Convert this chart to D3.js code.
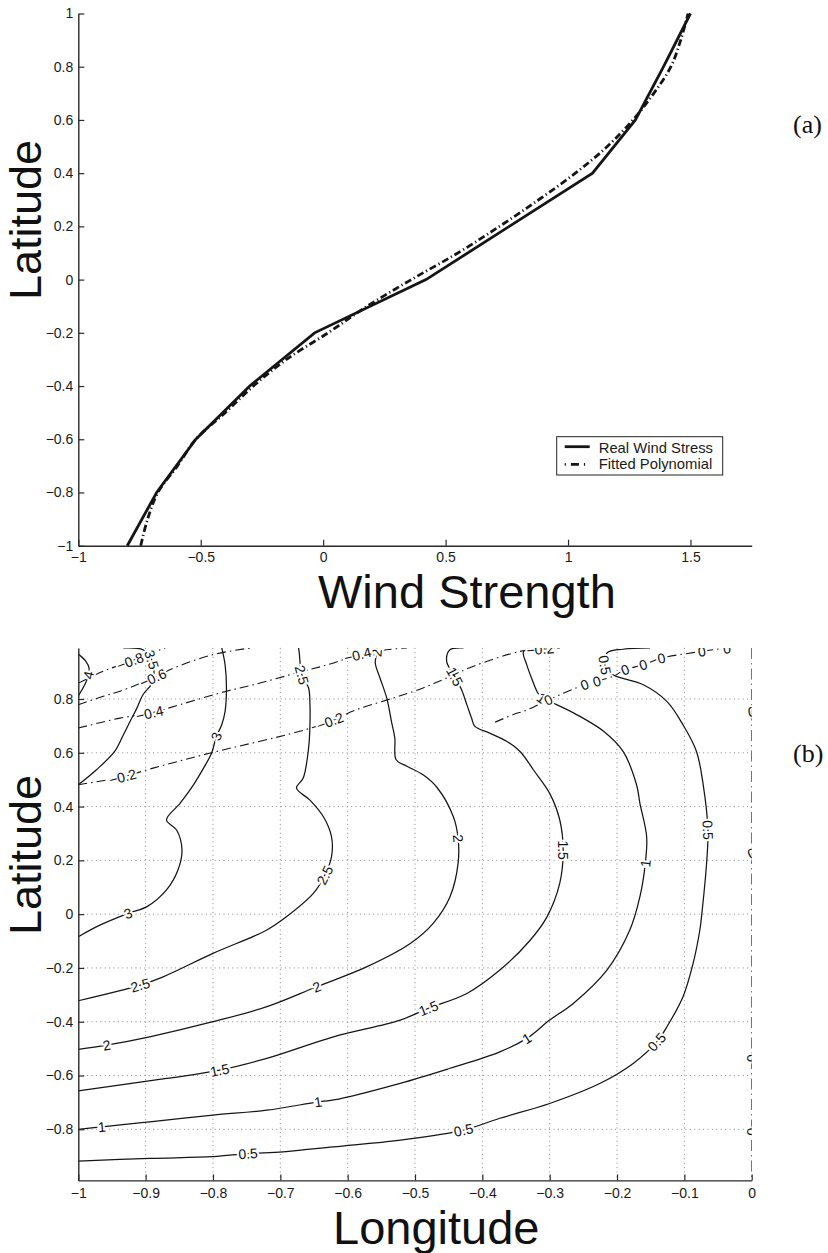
<!DOCTYPE html>
<html>
<head>
<meta charset="utf-8">
<script src="https://cdn.jsdelivr.net/npm/d3@7"></script>
<style>
  html, body { margin: 0; padding: 0; background: #fff; }
  svg { display: block; }
  .tick text { font-family: "Liberation Sans", Arial, Helvetica, sans-serif; }
</style>
</head>
<body>
<svg id="fig" width="828" height="1253"></svg>
<script>
// ---------- (a) wind stress profile ----------
const latStress = [-1, -0.8, -0.6, -0.4, -0.2, 0, 0.2, 0.4, 0.6, 0.8, 1];
const realStress = [-0.80, -0.68, -0.52, -0.30, -0.035, 0.42, 0.76, 1.10, 1.275, 1.39, 1.50];
const latFit = [-1, -0.9, -0.8, -0.7, -0.6, -0.5, -0.4, -0.3, -0.2, -0.1, 0, 0.1, 0.2, 0.3, 0.4, 0.5, 0.6, 0.7, 0.8, 0.9, 1];
const fittedStress = [-0.745, -0.717, -0.675, -0.595, -0.52, -0.40, -0.285, -0.15, 0.02, 0.18, 0.36, 0.55, 0.72, 0.88, 1.03, 1.16, 1.265, 1.35, 1.42, 1.46, 1.49];
const stressXTicks = [-1, -0.5, 0, 0.5, 1, 1.5];
const stressYTicks = [-1, -0.8, -0.6, -0.4, -0.2, 0, 0.2, 0.4, 0.6, 0.8, 1];
const legendNames = ["Real Wind Stress", "Fitted Polynomial"];

// ---------- (b) streamfunction contours, [longitude, latitude] ----------
const lonTicks = [-1, -0.9, -0.8, -0.7, -0.6, -0.5, -0.4, -0.3, -0.2, -0.1, 0];
const latTicks = [-0.8, -0.6, -0.4, -0.2, 0, 0.2, 0.4, 0.6, 0.8];

const psi4 = [[-1.0,0.967],[-0.989,0.941],[-0.984,0.915],[-0.985,0.889],[-0.989,0.860],[-1.0,0.811]];
const psi35 = [[-0.933,0.99],[-0.904,0.983],[-0.891,0.946],[-0.889,0.866],[-0.904,0.816],[-0.913,0.766],[-0.923,0.717],[-0.933,0.667],[-0.946,0.605],[-0.973,0.537],[-1.0,0.481]];
const psi3 = [[-0.787,0.99],[-0.782,0.927],[-0.780,0.841],[-0.782,0.754],[-0.787,0.704],[-0.795,0.661],[-0.802,0.599],[-0.814,0.543],[-0.829,0.481],[-0.849,0.412],[-0.869,0.350],[-0.854,0.313],[-0.846,0.238],[-0.852,0.164],[-0.869,0.090],[-0.898,0.028],[-0.926,0.003],[-0.968,-0.041],[-1.0,-0.084]];
const psi25 = [[-0.673,0.99],[-0.672,0.975],[-0.668,0.890],[-0.658,0.841],[-0.656,0.779],[-0.656,0.704],[-0.658,0.618],[-0.666,0.506],[-0.676,0.469],[-0.656,0.424],[-0.636,0.362],[-0.624,0.288],[-0.624,0.213],[-0.634,0.145],[-0.651,0.077],[-0.691,-0.010],[-0.720,-0.059],[-0.800,-0.146],[-0.874,-0.233],[-0.908,-0.264],[-1.0,-0.322]];
const psi2 = [[-0.557,0.99],[-0.557,0.971],[-0.559,0.934],[-0.552,0.878],[-0.542,0.804],[-0.535,0.717],[-0.530,0.655],[-0.528,0.574],[-0.512,0.550],[-0.488,0.518],[-0.467,0.470],[-0.443,0.362],[-0.436,0.282],[-0.436,0.189],[-0.448,0.065],[-0.473,-0.034],[-0.507,-0.109],[-0.572,-0.196],[-0.646,-0.270],[-0.720,-0.344],[-0.800,-0.400],[-0.894,-0.456],[-0.958,-0.487],[-1.0,-0.503]];
const psi15 = [[-0.428,0.99],[-0.448,0.983],[-0.453,0.940],[-0.441,0.884],[-0.431,0.835],[-0.423,0.779],[-0.416,0.729],[-0.411,0.698],[-0.389,0.673],[-0.364,0.643],[-0.344,0.605],[-0.324,0.536],[-0.300,0.449],[-0.285,0.350],[-0.280,0.238],[-0.285,0.115],[-0.304,-0.010],[-0.329,-0.097],[-0.374,-0.208],[-0.423,-0.295],[-0.480,-0.350],[-0.522,-0.394],[-0.621,-0.456],[-0.720,-0.536],[-0.790,-0.580],[-0.869,-0.611],[-1.0,-0.657]];
const psi1 = [[-0.292,0.99],[-0.329,0.988],[-0.339,0.975],[-0.334,0.927],[-0.327,0.878],[-0.319,0.829],[-0.312,0.804],[-0.295,0.785],[-0.260,0.742],[-0.220,0.680],[-0.191,0.605],[-0.171,0.481],[-0.166,0.412],[-0.156,0.288],[-0.158,0.189],[-0.166,0.065],[-0.181,-0.059],[-0.215,-0.208],[-0.265,-0.332],[-0.300,-0.394],[-0.334,-0.462],[-0.374,-0.512],[-0.448,-0.573],[-0.522,-0.629],[-0.621,-0.691],[-0.644,-0.698],[-0.720,-0.729],[-0.800,-0.747],[-0.894,-0.772],[-0.965,-0.791],[-1.0,-0.800]];
const psi05 = [[-0.151,0.99],[-0.191,0.985],[-0.215,0.971],[-0.218,0.926],[-0.210,0.897],[-0.201,0.884],[-0.161,0.853],[-0.126,0.791],[-0.102,0.704],[-0.082,0.605],[-0.072,0.481],[-0.065,0.313],[-0.067,0.189],[-0.074,0.003],[-0.077,-0.059],[-0.087,-0.183],[-0.102,-0.307],[-0.126,-0.419],[-0.141,-0.475],[-0.176,-0.555],[-0.225,-0.629],[-0.300,-0.704],[-0.374,-0.759],[-0.428,-0.803],[-0.522,-0.840],[-0.621,-0.865],[-0.696,-0.884],[-0.748,-0.890],[-0.800,-0.902],[-0.894,-0.908],[-1.0,-0.918]];
const psi0 = [[-0.381,0.714],[-0.354,0.742],[-0.334,0.759],[-0.302,0.797],[-0.248,0.853],[-0.230,0.866],[-0.206,0.884],[-0.188,0.909],[-0.161,0.927],[-0.134,0.952],[-0.074,0.977],[-0.037,0.990]];
const psi0East = [[0, 0.99], [0, -0.99]];
const psiM02 = [[-1.0,0.481],[-0.953,0.501],[-0.934,0.510],[-0.889,0.543],[-0.804,0.599],[-0.671,0.680],[-0.626,0.717],[-0.587,0.760],[-0.532,0.804],[-0.488,0.841],[-0.453,0.878],[-0.413,0.922],[-0.344,0.977],[-0.314,0.985],[-0.285,0.99]];
const psiM04 = [[-1.0,0.692],[-0.938,0.729],[-0.894,0.747],[-0.849,0.779],[-0.780,0.829],[-0.740,0.853],[-0.671,0.900],[-0.626,0.930],[-0.585,0.964],[-0.542,0.983],[-0.512,0.99]];
const psiM06 = [[-1.0,0.779],[-0.963,0.810],[-0.938,0.829],[-0.889,0.878],[-0.864,0.909],[-0.800,0.965],[-0.743,0.99]];
const psiM08 = [[-1.0,0.859],[-0.963,0.903],[-0.923,0.940],[-0.871,0.99]];

const contourLines = [
  { level: 4, pts: psi4 }, { level: 3.5, pts: psi35 }, { level: 3, pts: psi3 },
  { level: 2.5, pts: psi25 }, { level: 2, pts: psi2 }, { level: 1.5, pts: psi15 },
  { level: 1, pts: psi1 }, { level: 0.5, pts: psi05 },
  { level: 0, pts: psi0 }, { level: 0, pts: psi0East },
  { level: -0.2, pts: psiM02 }, { level: -0.4, pts: psiM04 },
  { level: -0.6, pts: psiM06 }, { level: -0.8, pts: psiM08 }
];

// inline contour labels: [level, lon, lat]
const contourLabels = [
  [4, -0.985, 0.889],
  [3.5, -0.891, 0.946],
  [3, -0.795, 0.661], [3, -0.926, 0.003],
  [2.5, -0.668, 0.890], [2.5, -0.634, 0.145], [2.5, -0.908, -0.264],
  [2, -0.557, 0.971], [2, -0.436, 0.282], [2, -0.646, -0.270], [2, -0.958, -0.487],
  [1.5, -0.441, 0.884], [1.5, -0.280, 0.238], [1.5, -0.480, -0.350], [1.5, -0.790, -0.580],
  [1, -0.312, 0.804], [1, -0.158, 0.189], [1, -0.334, -0.462], [1, -0.644, -0.698], [1, -0.965, -0.791],
  [0.5, -0.218, 0.926], [0.5, -0.065, 0.313], [0.5, -0.141, -0.475], [0.5, -0.428, -0.803], [0.5, -0.748, -0.890],
  [-0.8, -0.923, 0.940],
  [-0.6, -0.889, 0.878],
  [-0.4, -0.894, 0.747], [-0.4, -0.585, 0.964],
  [-0.2, -0.934, 0.510], [-0.2, -0.626, 0.717], [-0.2, -0.314, 0.985],
  [0, -0.302, 0.797], [0, -0.248, 0.853], [0, -0.230, 0.866], [0, -0.188, 0.909],
  [0, -0.161, 0.927], [0, -0.134, 0.952], [0, -0.074, 0.977], [0, -0.037, 0.988],
  [0, 0, 0.753], [0, 0, 0.226], [0, 0, -0.535], [0, 0, -0.809]
];

// ---------- drawing ----------
const svg = d3.select("#fig");
const SANS = '"Liberation Sans", Arial, Helvetica, sans-serif';
const SERIF = '"Liberation Serif", "DejaVu Serif", serif';
const INK = "#151515";
const fmt = d => String(d).replace("-", "\u2212");

function styleAxis(g) {
  g.select(".domain").attr("stroke", "#2a2a2a").attr("stroke-width", 1.4);
  g.selectAll(".tick line").attr("stroke", "#2a2a2a").attr("stroke-width", 1.2);
  g.selectAll(".tick text").attr("font-size", 14).attr("fill", "#1a1a1a").attr("font-family", SANS);
}

// ---- panel (a) ----
const xA = d3.scaleLinear().domain([-1, 1.75]).range([78.3, 751.7]);
const yA = d3.scaleLinear().domain([-1, 1]).range([545.7, 13.5]);
const gA = svg.append("g");

gA.append("g").attr("transform", "translate(78.3,0)")
  .call(d3.axisLeft(yA).tickValues(stressYTicks).tickFormat(fmt).tickSizeInner(-6).tickSizeOuter(0).tickPadding(5))
  .call(styleAxis);
gA.append("g").attr("transform", "translate(0,545.7)")
  .call(d3.axisBottom(xA).tickValues(stressXTicks).tickFormat(fmt).tickSizeInner(-6).tickSizeOuter(0).tickPadding(6))
  .call(styleAxis);

const realPts = latStress.map((lat, i) => [realStress[i], lat]);
const fitPts = latFit.map((lat, i) => [fittedStress[i], lat]);

gA.append("path").datum(fitPts)
  .attr("d", d3.line().x(d => xA(d[0])).y(d => yA(d[1])).curve(d3.curveCatmullRom.alpha(0.5)))
  .attr("fill", "none").attr("stroke", INK).attr("stroke-width", 2.8)
  .attr("stroke-dasharray", "7,3,1.2,3");
gA.append("path").datum(realPts)
  .attr("d", d3.line().x(d => xA(d[0])).y(d => yA(d[1])))
  .attr("fill", "none").attr("stroke", INK).attr("stroke-width", 2.8).attr("stroke-linejoin", "miter");

// legend
const leg = gA.append("g").attr("transform", "translate(556.7,436.7)");
leg.append("rect").attr("width", 166).attr("height", 38.3)
  .attr("fill", "#fff").attr("stroke", "#222").attr("stroke-width", 1);
leg.append("line").attr("x1", 8).attr("x2", 33).attr("y1", 10).attr("y2", 10)
  .attr("stroke", INK).attr("stroke-width", 2.8);
leg.append("line").attr("x1", 8).attr("x2", 33).attr("y1", 27.6).attr("y2", 27.6)
  .attr("stroke", INK).attr("stroke-width", 2.8).attr("stroke-dasharray", "1.2,5,8,5");
leg.selectAll("text.lg").data(legendNames).join("text")
  .attr("x", 42).attr("y", (d, i) => 16 + i * 16.6)
  .attr("font-family", SANS).attr("font-size", 14.8).attr("fill", "#1a1a1a")
  .text(d => d);

gA.append("text").attr("transform", "translate(41,300) rotate(-90)")
  .attr("font-family", SANS).attr("font-size", 45).attr("fill", "#111").text("Latitude");
gA.append("text").attr("x", 318).attr("y", 608)
  .attr("font-family", SANS).attr("font-size", 47).attr("fill", "#111").text("Wind Strength");
gA.append("text").attr("x", 793).attr("y", 133)
  .attr("font-family", SERIF).attr("font-size", 26).attr("fill", "#111").text("(a)");

// ---- panel (b) ----
const xB = d3.scaleLinear().domain([-1, 0]).range([78.3, 751.7]);
const yB = d3.scaleLinear().domain([-0.99, 0.99]).range([1180.4, 647.9]);
const gB = svg.append("g");

svg.append("defs").append("clipPath").attr("id", "clipB")
  .append("rect").attr("x", xB(-1)).attr("y", yB(0.99))
  .attr("width", xB(0) - xB(-1)).attr("height", yB(-0.99) - yB(0.99));

// dotted grid
const grid = gB.append("g").attr("stroke", "#7a7a7a").attr("stroke-width", 0.9).attr("stroke-dasharray", "1,3.4");
grid.selectAll("line.v").data(lonTicks.filter(d => d > -1 && d < 0)).join("line")
  .attr("x1", d => xB(d)).attr("x2", d => xB(d)).attr("y1", yB(0.99)).attr("y2", yB(-0.99));
grid.selectAll("line.h").data(latTicks).join("line")
  .attr("y1", d => yB(d)).attr("y2", d => yB(d)).attr("x1", xB(-1)).attr("x2", xB(0));

const plotB = gB.append("g").attr("clip-path", "url(#clipB)");
const lineB = d3.line().x(d => xB(d[0])).y(d => yB(d[1])).curve(d3.curveCatmullRom.alpha(0.5));

plotB.selectAll("path.c").data(contourLines).join("path")
  .attr("d", d => lineB(d.pts))
  .attr("fill", "none").attr("stroke", INK)
  .attr("stroke-width", d => d.level > 0 ? 1.25 : 1.1)
  .attr("stroke-dasharray", d => d.level > 0 ? null : (d.pts === psi0East ? "11,4,1.5,4" : "9,4,1.5,4"));

// label angle follows the local direction of the contour
function labelAngle(level, lon, lat) {
  const cands = contourLines.filter(c => c.level === level);
  let best = null, bestD = Infinity;
  cands.forEach(c => {
    c.pts.forEach((p, i) => {
      const dd = (p[0] - lon) ** 2 + (p[1] - lat) ** 2;
      if (dd < bestD) { bestD = dd; best = { c, i }; }
    });
  });
  const pts = best.c.pts;
  const a = pts[Math.max(0, best.i - 1)], b = pts[Math.min(pts.length - 1, best.i + 1)];
  let ang = Math.atan2(yB(b[1]) - yB(a[1]), xB(b[0]) - xB(a[0])) * 180 / Math.PI;
  if (ang > 90) ang -= 180;
  if (ang < -90) ang += 180;
  return ang;
}

plotB.selectAll("text.cl").data(contourLabels).join("text")
  .attr("transform", d => `translate(${xB(d[1])},${yB(d[2])}) rotate(${labelAngle(d[0], d[1], d[2])})`)
  .attr("text-anchor", "middle").attr("dy", "0.36em")
  .attr("font-family", SANS).attr("font-size", 14).attr("fill", "#111")
  .attr("stroke", "#fff").attr("stroke-width", 4).attr("paint-order", "stroke")
  .text(d => fmt(d[0]));

gB.append("g").attr("transform", `translate(${xB(-1)},0)`)
  .call(d3.axisLeft(yB).tickValues(latTicks).tickFormat(fmt).tickSizeInner(-6).tickSizeOuter(0).tickPadding(5))
  .call(styleAxis);
gB.append("g").attr("transform", `translate(0,${yB(-0.99)})`)
  .call(d3.axisBottom(xB).tickValues(lonTicks).tickFormat(fmt).tickSizeInner(-6).tickSizeOuter(0).tickPadding(8))
  .call(styleAxis);

gB.append("text").attr("transform", "translate(41,935) rotate(-90)")
  .attr("font-family", SANS).attr("font-size", 45).attr("fill", "#111").text("Latitude");
gB.append("text").attr("x", 333).attr("y", 1244)
  .attr("font-family", SANS).attr("font-size", 47).attr("fill", "#111").text("Longitude");
gB.append("text").attr("x", 793).attr("y", 762)
  .attr("font-family", SERIF).attr("font-size", 26).attr("fill", "#111").text("(b)");
</script>
</body>
</html>
